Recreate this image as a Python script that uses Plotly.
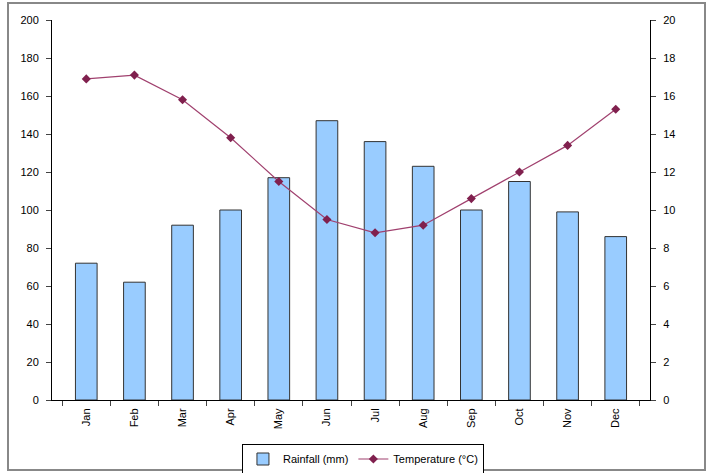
import plotly.graph_objects as go

months = ["Jan", "Feb", "Mar", "Apr", "May", "Jun", "Jul", "Aug", "Sep", "Oct", "Nov", "Dec"]
rainfall = [72, 62, 92, 100, 117, 147, 136, 123, 100, 115, 99, 86]
temperature = [16.9, 17.1, 15.8, 13.8, 11.5, 9.5, 8.8, 9.2, 10.6, 12.0, 13.4, 15.3]
left_ticks = list(range(0, 201, 20))
right_ticks = list(range(0, 21, 2))

fig = go.Figure()
fig.add_trace(go.Bar(
    x=months, y=rainfall, name="Rainfall (mm)",
    marker=dict(color="#99CCFF", line=dict(color="#333333", width=1)),
    width=0.45, yaxis="y",
))
fig.add_trace(go.Scatter(
    x=months, y=temperature, name="Temperature (°C)", mode="lines+markers",
    line=dict(color="#A0406E", width=1.2),
    marker=dict(symbol="diamond", size=7, color="#80204E"),
    yaxis="y2",
))

font = dict(family="Liberation Sans, Arial, sans-serif", size=11, color="#000000")
fig.update_layout(
    width=710, height=473,
    margin=dict(l=52, r=60, t=20, b=73, autoexpand=False),
    paper_bgcolor="white", plot_bgcolor="white",
    font=font,
    showlegend=True,
    legend=dict(orientation="h", x=0.52, y=1 - 459 / 473, xanchor="center", yanchor="middle",
                yref="container",
                bordercolor="#000000", borderwidth=1, font=dict(size=11),
                itemwidth=30, tracegroupgap=0),
    xaxis=dict(type="category", showline=True, linecolor="#000000", linewidth=1,
               ticks="outside", ticklen=5, tickson="boundaries", tickangle=-90,
               showgrid=False, zeroline=False, automargin=False, ticklabelstandoff=3),
    yaxis=dict(range=[0, 200], tickvals=left_ticks, showline=True, linecolor="#000000",
               ticks="outside", ticklen=5, showgrid=False, zeroline=False, automargin=False,
               ticklabelstandoff=5),
    yaxis2=dict(range=[0, 20], tickvals=right_ticks, overlaying="y", side="right",
                showline=True, linecolor="#000000", ticks="outside", ticklen=5,
                showgrid=False, zeroline=False, automargin=False, ticklabelstandoff=5),
    shapes=[dict(type="rect", xref="paper", yref="paper",
                 x0=(8 - 52) / 598, x1=(705 - 52) / 598,
                 y0=(400 - 470) / 380, y1=(400 - 3) / 380,
                 line=dict(color="#888888", width=2), fillcolor="rgba(0,0,0,0)", layer="below")],
)

fig.write_html("out.html", config={"displayModeBar": False},
               post_script="document.body.style.margin='0';")
